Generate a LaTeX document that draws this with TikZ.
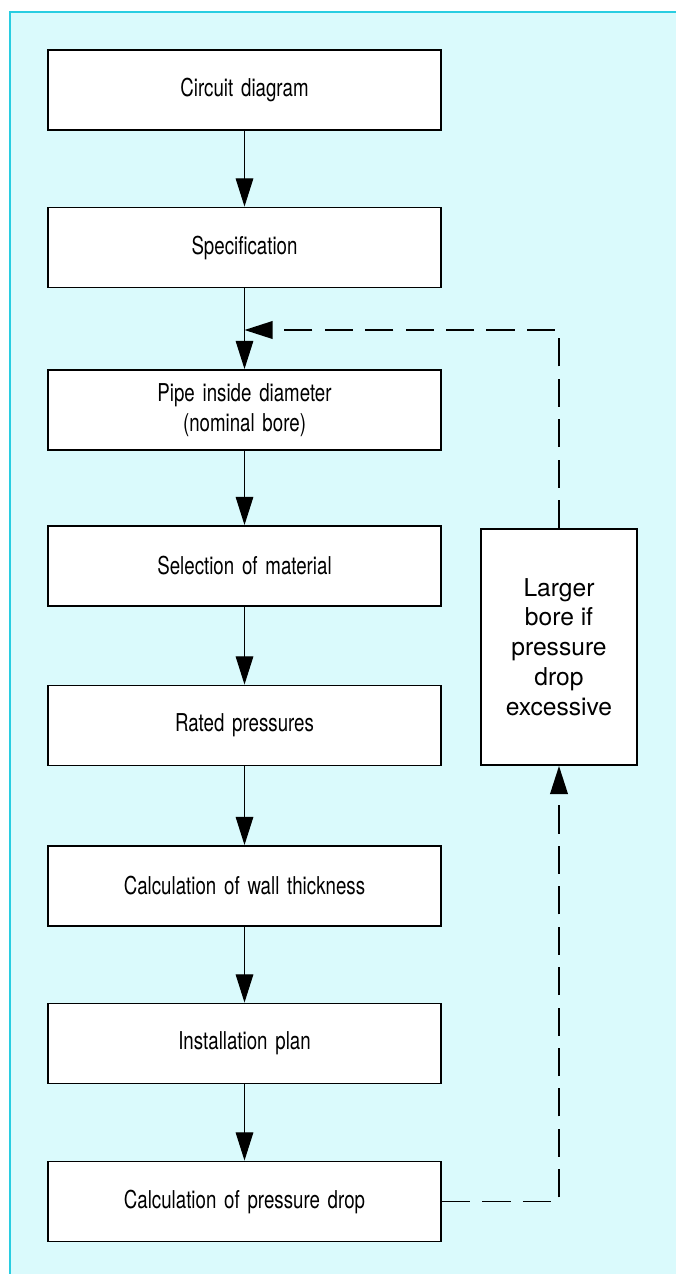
\documentclass[tikz,border=0pt]{standalone}
\usepackage{fontspec}
\setmainfont{TeX Gyre Heros}[FakeStretch=0.76,WordSpace=1.5]
\newfontfamily\notefont{TeX Gyre Heros}
\usepackage{tikz}
\usetikzlibrary{arrows.meta}
\definecolor{framecyan}{RGB}{40,205,225}
\definecolor{panelcyan}{RGB}{218,250,252}

\begin{document}
\begin{tikzpicture}[
	stage/.style={draw=black, line width=1.1pt, fill=white, minimum width=7.86cm, minimum height=1.6cm, inner sep=0pt, align=center, font=\fontsize{14}{17}\selectfont},
	headtip/.style={-{Triangle[width=10pt,length=16pt]}},
	flow/.style={headtip, line width=0.6pt},
	loopback/.style={headtip, line width=1.1pt, dash pattern=on 16pt off 7pt}
	]
	\useasboundingbox (0,0) rectangle (13.5,-25.48);
	\filldraw[fill=panelcyan, draw=framecyan, line width=1.5pt] (0.2,-0.24) rectangle (13.7,-25.6);
	
	\node[stage] (circuit) at (4.89, -1.8) {Circuit diagram};
	\node[stage] (spec) at (4.89, -4.95) {Specification};
	\node[stage] (bore) at (4.89, -8.2) {Pipe inside diameter\\(nominal bore)};
	\node[stage] (material) at (4.89, -11.32) {Selection of material};
	\node[stage] (rated) at (4.89, -14.51) {Rated pressures};
	\node[stage] (wall) at (4.89, -17.72) {Calculation of wall thickness};
	\node[stage] (plan) at (4.89, -20.87) {Installation plan};
	\node[stage] (drop) at (4.89, -24.03) {Calculation of pressure drop};
	
	\node[stage, minimum width=3.12cm, minimum height=4.72cm, font=\notefont\fontsize{14}{17}\selectfont] (larger) at (11.18, -12.94) {Larger\\bore if\\pressure\\drop\\excessive};
	\coordinate (join) at (4.89, -6.6);
	
	\draw[flow] (circuit) -- (spec);
	\draw[flow] (spec) -- (bore);
	\draw[flow] (bore) -- (material);
	\draw[flow] (material) -- (rated);
	\draw[flow] (rated) -- (wall);
	\draw[flow] (wall) -- (plan);
	\draw[flow] (plan) -- (drop);
	
	\draw[loopback] (drop.east) -| (larger.south);
	\draw[loopback] (larger.north) |- (join);
\end{tikzpicture}
\end{document}
